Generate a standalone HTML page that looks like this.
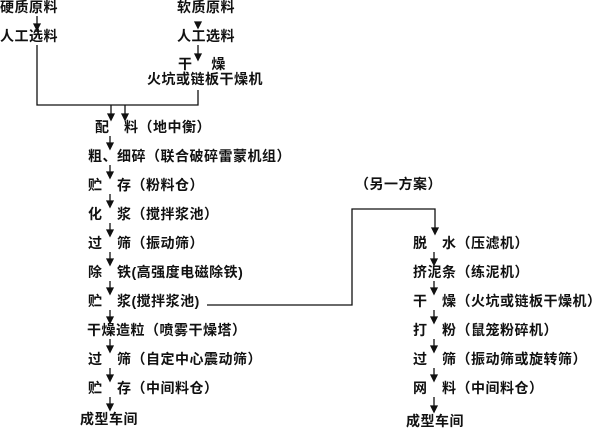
<!DOCTYPE html>
<html><head><meta charset="utf-8"><style>
body{margin:0;width:600px;height:434px;background:#fff;position:relative;overflow:hidden;font-family:"Liberation Sans","Noto Sans CJK SC",sans-serif;font-weight:bold;font-size:14px;letter-spacing:0.5px;color:#111}
.t{position:absolute;white-space:pre;line-height:14px}
svg{position:absolute;left:0;top:0}
</style></head><body>
<svg width="600" height="434" stroke="#111" stroke-width="1.3" fill="#111">
<path d="M37,45V105H198V90M198,45V56M37,16V26" fill="none"/>
<polygon points="34,24 40,24 37,30"/><polygon points="195,22 201,22 198,28"/><polygon points="195,54 201,54 198,60"/>
<path d="M111,105V116M125,105V116" fill="none"/>
<polygon points="108,114 114,114 111,120"/><polygon points="122,114 128,114 125,120"/>
<path d="M110,136V145M110,165V174M110,194V203M110,223V232M110,252V261M110,281V290M110,310V319M110,339V348M110,368V377M110,397V406" fill="none"/>
<polygon points="107,143 113,143 110,149"/><polygon points="107,172 113,172 110,178"/><polygon points="107,201 113,201 110,207"/><polygon points="107,230 113,230 110,236"/><polygon points="107,259 113,259 110,265"/><polygon points="107,288 113,288 110,294"/><polygon points="107,317 113,317 110,323"/><polygon points="107,346 113,346 110,352"/><polygon points="107,375 113,375 110,381"/><polygon points="107,404 113,404 110,410"/>
<path d="M207,305H352V209H435V230" fill="none"/>
<polygon points="432,228 438,228 435,234"/>
<path d="M434,252V261M434,281V290M434,310V319M434,339V348M434,368V377M434,397V408" fill="none"/>
<polygon points="431,259 437,259 434,265"/><polygon points="431,288 437,288 434,294"/><polygon points="431,317 437,317 434,323"/><polygon points="431,346 437,346 434,352"/><polygon points="431,375 437,375 434,381"/><polygon points="431,406 437,406 434,412"/>
</svg>
<div class="t" style="left:0;top:0px">硬质原料</div>
<div class="t" style="left:0;top:29px">人工选料</div>
<div class="t" style="left:177px;top:0px">软质原料</div>
<div class="t" style="left:177px;top:29px">人工选料</div>
<div class="t" style="left:178px;top:57px">干　 燥</div>
<div class="t" style="left:147px;top:72px">火坑或链板干燥机</div>
<div class="t" style="left:95px;top:120px">配　料（地中衡）</div>
<div class="t" style="left:88px;top:149px">粗、细碎（联合破碎雷蒙机组）</div>
<div class="t" style="left:88px;top:178px">贮　存（粉料仓）</div>
<div class="t" style="left:88px;top:207px">化　浆（搅拌浆池）</div>
<div class="t" style="left:88px;top:236px">过　筛（振动筛）</div>
<div class="t" style="left:88px;top:265px">除　铁(高强度电磁除铁)</div>
<div class="t" style="left:88px;top:294px">贮　浆(搅拌浆池)</div>
<div class="t" style="left:87px;top:323px">干燥造粒（喷雾干燥塔）</div>
<div class="t" style="left:88px;top:352px">过　筛（自定中心震动筛）</div>
<div class="t" style="left:88px;top:381px">贮　存（中间料仓）</div>
<div class="t" style="left:80px;top:412px">成型车间</div>
<div class="t" style="left:355px;top:177px">（另一方案）</div>
<div class="t" style="left:413px;top:236px">脱　水（压滤机）</div>
<div class="t" style="left:413px;top:265px">挤泥条（练泥机）</div>
<div class="t" style="left:413px;top:294px">干　燥（火坑或链板干燥机）</div>
<div class="t" style="left:413px;top:323px">打　粉（鼠笼粉碎机）</div>
<div class="t" style="left:413px;top:352px">过　筛（振动筛或旋转筛）</div>
<div class="t" style="left:413px;top:381px">网　料（中间料仓）</div>
<div class="t" style="left:406px;top:414px">成型车间</div>
</body></html>
